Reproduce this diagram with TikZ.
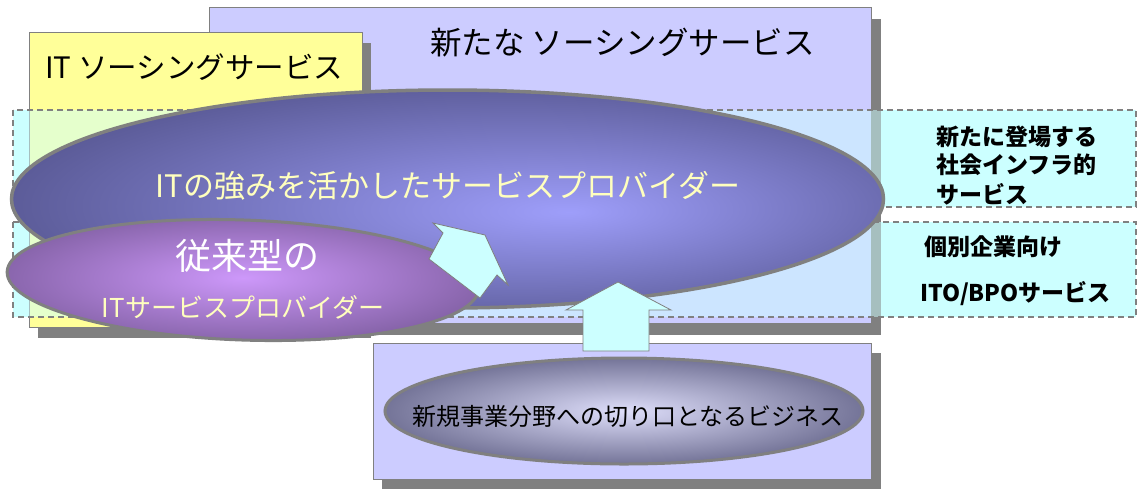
\documentclass[tikz,border=0pt]{standalone}
\usepackage{fontspec}
\newfontfamily\jp{Noto Sans CJK JP}
\usetikzlibrary{shapes.geometric}
\definecolor{lav}{RGB}{204,204,255}
\definecolor{yel}{RGB}{255,255,153}
\definecolor{cyn}{RGB}{204,255,255}
\definecolor{shd}{RGB}{128,128,128}
\definecolor{bige}{RGB}{90,90,150}
\definecolor{bigc}{RGB}{158,158,250}
\definecolor{sme}{RGB}{135,100,170}
\definecolor{smc}{RGB}{205,152,250}
\definecolor{bote}{RGB}{112,112,148}
\definecolor{botc}{RGB}{222,222,250}
\definecolor{txy}{RGB}{255,255,190}
\pgfdeclareradialshading{bigsh}{\pgfpoint{7bp}{-3bp}}{color(0bp)=(bigc); color(29bp)=(bige); color(50bp)=(bige)}
\pgfdeclareradialshading{smsh}{\pgfpoint{0bp}{0bp}}{color(0bp)=(smc); color(26bp)=(sme); color(50bp)=(sme)}
\pgfdeclareradialshading{botsh}{\pgfpoint{0bp}{0bp}}{color(0bp)=(botc); color(26bp)=(bote); color(50bp)=(bote)}
\tikzset{
  boxshape/.style={draw=shd, line width=1.2pt, rectangle, inner sep=0pt, anchor=north west},
  shadowfill/.style={fill=shd},
  band/.style={draw=shd, line width=1.3pt, dash pattern=on 6pt off 4pt, fill=cyn, fill opacity=0.5},
  ell/.style={ellipse, draw=shd, inner sep=0pt},
  blockarrow/.style={draw=shd, line width=0.8pt, fill=cyn, line join=miter},
  lbl/.style={inner sep=0pt, text=black},
  rlbl/.style={inner sep=0pt, anchor=west, text=black, font={\jp\bfseries\fontsize{23}{23}\selectfont}}
}
\begin{document}
\begin{tikzpicture}[x=1pt, y=-1pt]
\useasboundingbox (0,0) rectangle (1139,488);
\fill[white] (0,0) rectangle (1139,488);
% solid cyan bands underneath
\fill[cyn] (13,110) rectangle (1136,207);
\fill[cyn] (13,222) rectangle (1136,317);
% new sourcing services box
\fill[shadowfill] (219,19) rectangle (881,335);
\node[boxshape, fill=lav, minimum width=662pt, minimum height=316pt] (newbox) at (209,7) {};
% IT sourcing services box
\fill[shadowfill] (38,43) rectangle (371,338);
\node[boxshape, fill=yel, minimum width=333pt, minimum height=295pt] (itbox) at (29,32) {};
% translucent dashed bands
\draw[band] (13,110) rectangle (1136,207);
\draw[band] (13,222) rectangle (1136,317);
% big ellipse
\node[ell, line width=3.5pt, shading=bigsh, minimum width=872pt, minimum height=218pt] (big) at (447.5,199) {};
% small ellipse
\node[ell, line width=3pt, shading=smsh, rotate=-2, minimum width=472pt, minimum height=120pt] (small) at (243,280) {};
% diagonal block arrow
\draw[blockarrow] (485,235) -- (433,223) -- (443,233) -- (429,259) -- (480,298) -- (497,275) -- (508,285) -- cycle;
% bottom box
\fill[shadowfill] (382,353) rectangle (881,490);
\node[boxshape, fill=lav, minimum width=498pt, minimum height=136pt] (botbox) at (373,343) {};
\node[ell, line width=3pt, shading=botsh, minimum width=478pt, minimum height=106pt] (botell) at (624,411) {};
% up block arrow
\draw[blockarrow] (618,282) -- (671,310) -- (649,310) -- (649,351) -- (583,351) -- (583,310) -- (566,310) -- cycle;
% texts
\node[lbl, anchor=west, font={\jp\fontsize{31.5}{31.5}\selectfont}] (tnew) at (430,43) {新たな ソーシングサービス};
\node[lbl, anchor=west, font={\jp\fontsize{29.5}{29.5}\selectfont}] (tit) at (45,67) {IT ソーシングサービス};
\node[lbl, text=txy, font={\jp\fontsize{31}{31}\selectfont}] (tbig) at (448,186) {ITの強みを活かしたサービスプロバイダー};
\node[lbl, text=white, font={\jp\fontsize{36}{36}\selectfont}] (tsm1) at (247,256) {従来型の};
\node[lbl, text=txy, font={\jp\fontsize{26}{26}\selectfont}] (tsm2) at (243,307) {ITサービスプロバイダー};
\node[lbl, font={\jp\fontsize{24}{24}\selectfont}] (tbot) at (628,416) {新規事業分野への切り口となるビジネス};
\node[rlbl] (r1) at (936,137) {新たに登場する};
\node[rlbl] (r2) at (936,165) {社会インフラ的};
\node[rlbl] (r3) at (936,194) {サービス};
\node[rlbl] (r4) at (924,247) {個別企業向け};
\node[rlbl] (r5) at (920,294) {ITO/BPOサービス};
\end{tikzpicture}
\end{document}
